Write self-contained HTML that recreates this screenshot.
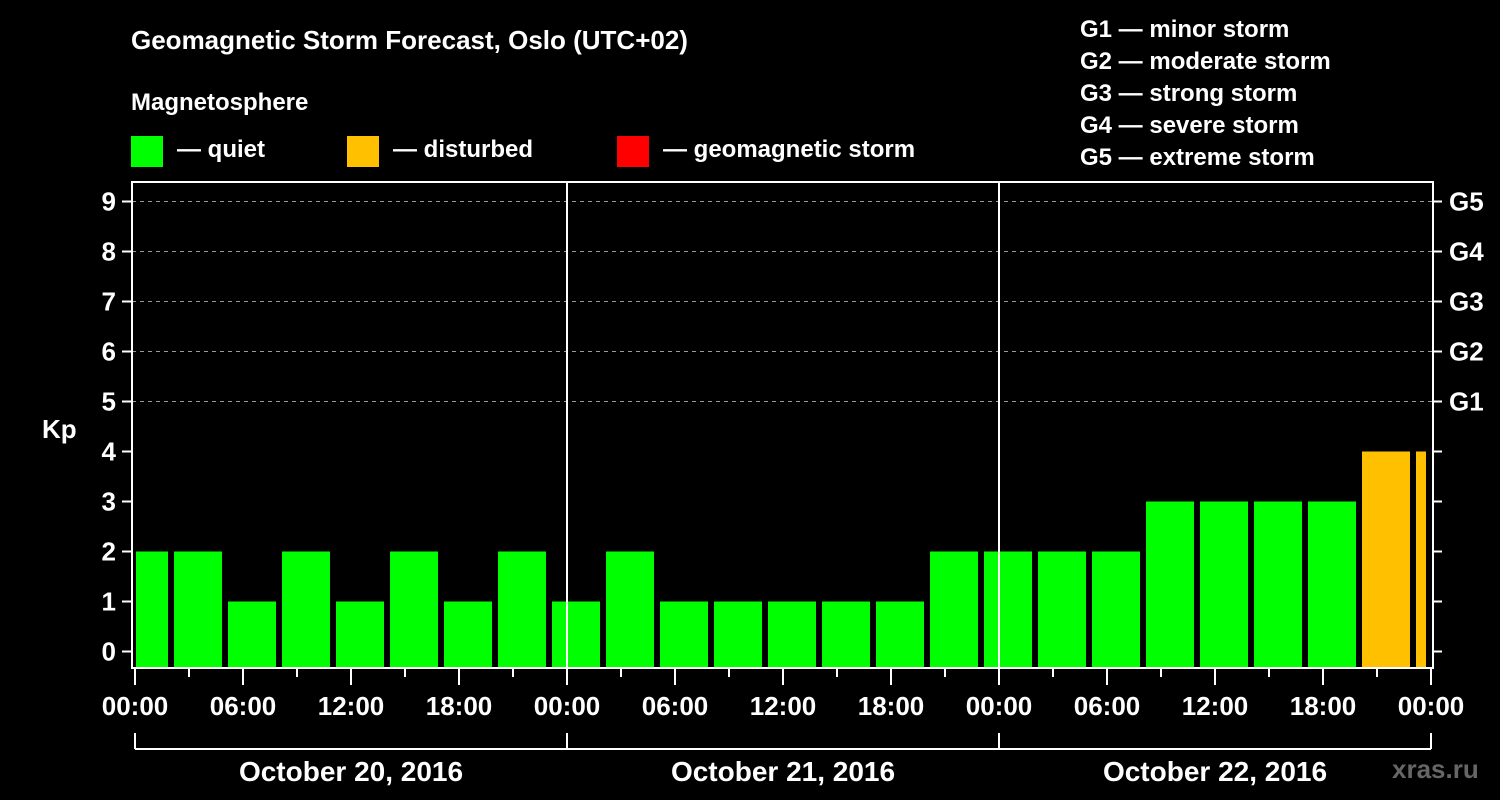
<!DOCTYPE html>
<html><head><meta charset="utf-8"><style>
html,body{margin:0;padding:0;background:#000;}
svg{display:block;font-family:"Liberation Sans",Arial,sans-serif;font-weight:bold;}
</style></head><body>
<svg id="chart" width="1500" height="800" viewBox="0 0 1500 800">
<rect width="1500" height="800" fill="#000"/>
<text x="131" y="49" fill="#fff" font-size="26">Geomagnetic Storm Forecast, Oslo (UTC+02)</text>
<text x="131" y="110" fill="#fff" font-size="24">Magnetosphere</text>
<g><rect x="131" y="136" width="32" height="31" fill="#00ff00"/><text x="177" y="157" fill="#fff" font-size="24">— quiet</text></g>
<g><rect x="347" y="136" width="32" height="31" fill="#ffc000"/><text x="393" y="157" fill="#fff" font-size="24">— disturbed</text></g>
<g><rect x="617" y="136" width="32" height="31" fill="#ff0000"/><text x="663" y="157" fill="#fff" font-size="24">— geomagnetic storm</text></g>
<g fill="#fff" font-size="24">
<text x="1080" y="37">G1 — minor storm</text>
<text x="1080" y="69">G2 — moderate storm</text>
<text x="1080" y="101">G3 — strong storm</text>
<text x="1080" y="133">G4 — severe storm</text>
<text x="1080" y="165">G5 — extreme storm</text>
</g>
<text x="42" y="438" fill="#fff" font-size="26">Kp</text>
<text x="1392" y="778" fill="#666" font-size="26">xras.ru</text>
<g id="plot"></g>
</svg>
<script>
const barStartHours = [-1,2,5,8,11,14,17,20,23,26,29,32,35,38,41,44,47,50,53,56,59,62,65,68,71];
const kpValues = [2,2,1,2,1,2,1,2,1,2,1,1,1,1,1,2,2,2,2,3,3,3,3,4,4];
const yTicks = [0,1,2,3,4,5,6,7,8,9];
const gLabels = ["G1","G2","G3","G4","G5"];
const xTickLabels = ["00:00","06:00","12:00","18:00","00:00","06:00","12:00","18:00","00:00","06:00","12:00","18:00","00:00"];
const dayLabels = ["October 20, 2016","October 21, 2016","October 22, 2016"];

const NS="http://www.w3.org/2000/svg";
const g=document.getElementById('plot');
const X0=135, PX_H=18, TOTAL=72;
const xs=h=>X0+h*PX_H;
const ys=v=>651.5-50*v;
const L=132,R=1433,T=182,B=668;
function mk(t,a,p){const e=document.createElementNS(NS,t);for(const k in a)e.setAttribute(k,a[k]);(p||g).appendChild(e);return e;}

// grid
[5,6,7,8,9].forEach(v=>{
  const l=mk('line',{x1:L,x2:R,y1:ys(v),y2:ys(v),stroke:'#999','stroke-dasharray':'4,4','stroke-width':1});
  
  
});
// bars
barStartHours.forEach((h,i)=>{
  const s=Math.max(0,h), e=Math.min(TOTAL,h+3);
  const x1=xs(s)+(h>=0?3:1), x2=xs(e)-(h+3<=TOTAL?3:5);
  const v=kpValues[i];
  const col=v>=5?'#ff0000':(v>=4?'#ffc000':'#00ff00');
  const r=mk('rect',{x:x1,y:ys(v),width:x2-x1,height:B-1-ys(v),fill:col});
  
  
});
// day separators
[1,2].forEach(d=>{
  const l=mk('line',{x1:xs(24*d),x2:xs(24*d),y1:T,y2:B,stroke:'#fff','stroke-width':2});
  
  
});
// frame
const f=mk('rect',{x:L,y:T,width:R-L,height:B-T,fill:'none',stroke:'#fff','stroke-width':2});


// y ticks
yTicks.forEach(v=>{
  mk('line',{x1:122,x2:L,y1:ys(v),y2:ys(v),stroke:'#fff','stroke-width':2});
  mk('line',{x1:R,x2:R+9,y1:ys(v),y2:ys(v),stroke:'#fff','stroke-width':2});
  const t=mk('text',{x:116,y:ys(v)+9,fill:'#fff','font-size':26,'text-anchor':'end'});
  t.textContent=v;
  
  
});
gLabels.forEach((lab,i)=>{
  const t=mk('text',{x:1449,y:ys(5+i)+9,fill:'#fff','font-size':26});
  t.textContent=lab;
  
  
});
// x ticks
for(let h=0;h<=TOTAL;h+=3){
  const major=h%6===0;
  mk('line',{x1:xs(h),x2:xs(h),y1:B,y2:B+(major?17:9),stroke:'#fff','stroke-width':2});
}
xTickLabels.forEach((lab,i)=>{
  const t=mk('text',{x:xs(i*6),y:715,fill:'#fff','font-size':26,'text-anchor':'middle'});
  t.textContent=lab;
  
  
});
// day brackets
mk('line',{x1:xs(0),x2:xs(72),y1:749,y2:749,stroke:'#fff','stroke-width':2});
for(let d=0;d<=3;d++) mk('line',{x1:xs(24*d),x2:xs(24*d),y1:733,y2:749,stroke:'#fff','stroke-width':2});
dayLabels.forEach((lab,i)=>{
  const t=mk('text',{x:xs(24*i+12),y:781,fill:'#fff','font-size':28,'text-anchor':'middle'});
  t.textContent=lab;
  
  
});
</script>
</body></html>
